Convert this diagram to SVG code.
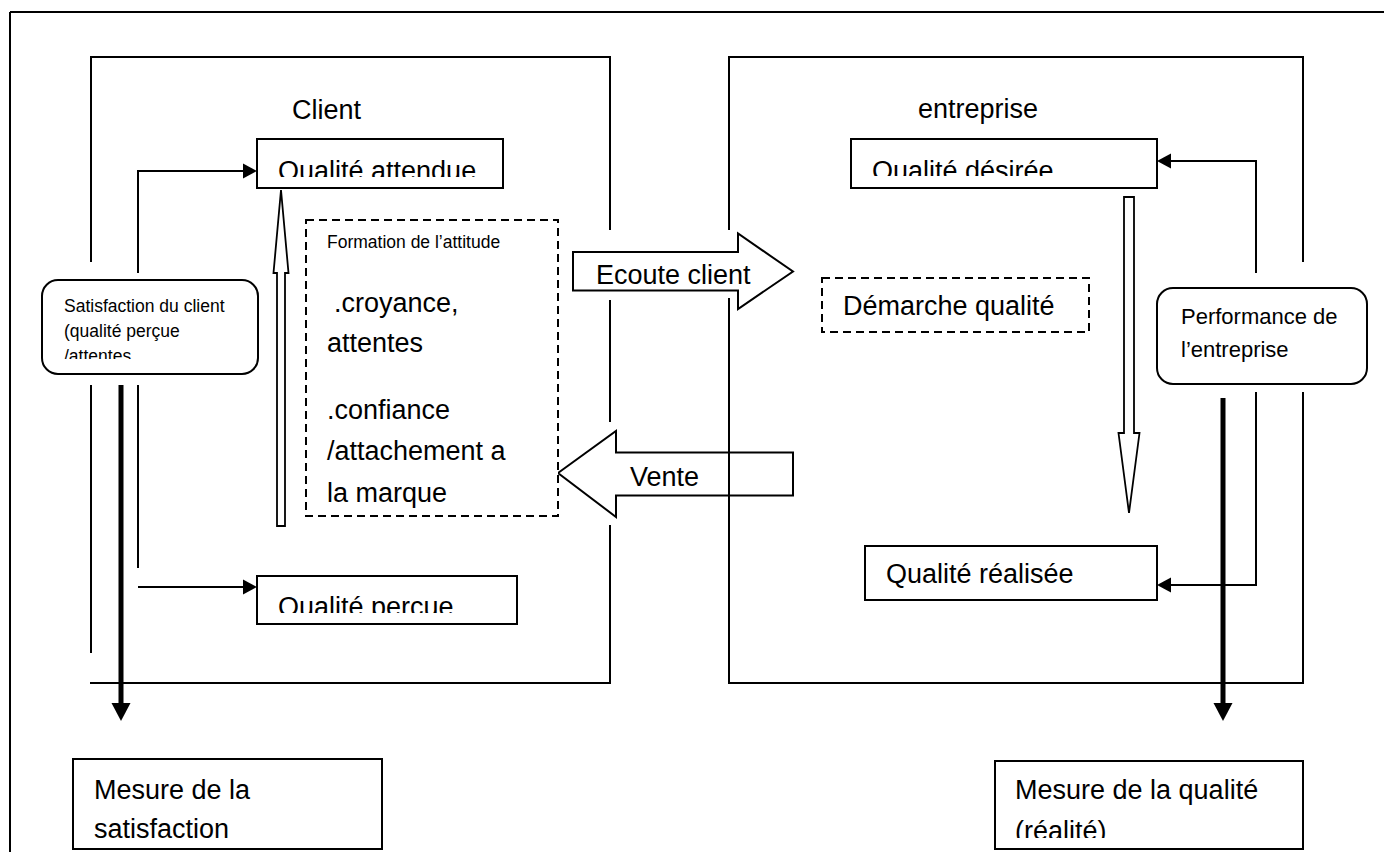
<svg xmlns="http://www.w3.org/2000/svg" width="1384" height="852" viewBox="0 0 1384 852">
  <style>
    text { font-family: "Liberation Sans", Arial, sans-serif; fill: #000; }
    .big { font-size: 27px; }
    .mid { font-size: 22px; }
    .sm { font-size: 17.5px; }
    .box { fill: #fff; stroke: #000; stroke-width: 2; }
    .dash { fill: #fff; stroke: #000; stroke-width: 2; stroke-dasharray: 8 5; }
    .ln { fill: none; stroke: #000; stroke-width: 2; }
    .thin { fill: none; stroke: #000; stroke-width: 2; }
    .thick { fill: none; stroke: #000; stroke-width: 5; }
    .hollow { fill: #fff; stroke: #000; stroke-width: 1.8; stroke-linejoin: miter; }
  </style>
  <defs>
    <marker id="ah" markerUnits="userSpaceOnUse" markerWidth="15" markerHeight="16" refX="0" refY="7.5" orient="auto" overflow="visible">
      <path d="M0,0 L14,7.5 L0,15 z" fill="#000"/>
    </marker>
    <marker id="ahThick" markerUnits="userSpaceOnUse" markerWidth="19" markerHeight="20" refX="0" refY="9.5" orient="auto" overflow="visible">
      <path d="M0,0 L18,9.5 L0,19 z" fill="#000"/>
    </marker>
    <clipPath id="cQA"><rect x="258" y="140" width="244" height="37"/></clipPath>
    <clipPath id="cQD"><rect x="852" y="140" width="304" height="36"/></clipPath>
    <clipPath id="cQP"><rect x="258" y="577" width="258" height="36"/></clipPath>
    <clipPath id="cEC"><rect x="574" y="240" width="220" height="45.5"/></clipPath>
    <clipPath id="cSat"><rect x="43" y="281" width="214" height="78"/></clipPath>
    <clipPath id="cMQ"><rect x="996" y="762" width="306" height="76"/></clipPath>
  </defs>

  <g id="frame">
    <line class="ln" x1="10" y1="12" x2="1384" y2="12"/>
    <line class="ln" x1="10" y1="12" x2="10" y2="852"/>
  </g>

  <g id="client-zone">
    <polyline class="ln" points="91,262 91,57 610,57 610,230"/>
    <line class="ln" x1="91" y1="385" x2="91" y2="653"/>
    <line class="ln" x1="610" y1="300" x2="610" y2="422"/>
    <polyline class="ln" points="610,525 610,683 90,683"/>
    <text class="big" x="292" y="119">Client</text>
  </g>

  <g id="entreprise-zone">
    <polyline class="ln" points="729,230 729,57 1303,57 1303,262"/>
    <polyline class="ln" points="729,298 729,683 1303,683 1303,392"/>
    <text class="big" x="918" y="118">entreprise</text>
  </g>

  <g id="vente">
    <polygon class="box" points="558,473 616,431 616,452.5 793,452.5 793,495.5 616,495.5 616,517"/>
    <text class="big" x="630" y="486">Vente</text>
  </g>
  <line class="ln" x1="729" y1="440" x2="729" y2="510"/>

  <g id="ecoute-client">
    <polygon class="box" points="573,252 738,252 738,233.5 793,271.5 738,309 738,290.5 573,290.5"/>
    <text class="big" x="596" y="284" clip-path="url(#cEC)">Ecoute client</text>
  </g>

  <g id="qualite-attendue">
    <rect class="box" x="257" y="139" width="246" height="49"/>
    <text class="big" x="278" y="180" clip-path="url(#cQA)">Qualité attendue</text>
  </g>

  <g id="formation-attitude">
    <rect class="dash" x="306" y="220" width="252" height="296"/>
    <text class="sm" x="327" y="248">Formation de l’attitude</text>
    <text class="big" x="334" y="312">.croyance,</text>
    <text class="big" x="327" y="352">attentes</text>
    <text class="big" x="327" y="419">.confiance</text>
    <text class="big" x="327" y="460">/attachement a</text>
    <text class="big" x="327" y="502">la marque</text>
  </g>

  <g id="satisfaction-client">
    <rect class="box" x="42" y="280" width="216" height="94" rx="16" ry="16"/>
    <g clip-path="url(#cSat)">
      <text class="sm" x="64" y="312">Satisfaction du client</text>
      <text class="sm" x="64" y="337">(qualité perçue</text>
      <text class="sm" x="64" y="362">/attentes</text>
    </g>
  </g>

  <g id="qualite-percue">
    <rect class="box" x="257" y="576" width="260" height="48"/>
    <text class="big" x="278" y="616" clip-path="url(#cQP)">Qualité perçue</text>
  </g>

  <g id="qualite-desiree">
    <rect class="box" x="851" y="139" width="306" height="49"/>
    <text class="big" x="872" y="180" clip-path="url(#cQD)">Qualité désirée</text>
  </g>

  <g id="demarche-qualite">
    <rect class="dash" x="822" y="278" width="267" height="54"/>
    <text class="big" x="843" y="315">Démarche qualité</text>
  </g>

  <g id="performance-entreprise">
    <rect class="box" x="1157" y="288" width="210" height="96" rx="16" ry="16"/>
    <text class="mid" x="1181" y="324">Performance de</text>
    <text class="mid" x="1181" y="357">l’entreprise</text>
  </g>

  <g id="qualite-realisee">
    <rect class="box" x="865" y="546" width="292" height="54"/>
    <text class="big" x="886" y="583">Qualité réalisée</text>
  </g>

  <g id="mesure-satisfaction">
    <rect class="box" x="73" y="759" width="309" height="90"/>
    <text class="big" x="94" y="799">Mesure de la</text>
    <text class="big" x="94" y="838">satisfaction</text>
  </g>

  <g id="mesure-qualite">
    <rect class="box" x="995" y="761" width="308" height="88"/>
    <g clip-path="url(#cMQ)">
      <text class="big" x="1015" y="799">Mesure de la qualité</text>
      <text class="big" x="1015" y="840">(réalité)</text>
    </g>
  </g>

  <g id="connectors">
    <polyline class="thin" points="138,273 138,171 243,171" marker-end="url(#ah)"/>
    <line class="ln" x1="138" y1="385" x2="138" y2="568"/>
    <line class="thin" x1="138" y1="587" x2="243" y2="587" marker-end="url(#ah)"/>
    <polygon class="hollow" points="281,190 288.5,273 285,273 285,526 277,526 277,273 273.5,273"/>
    <line class="thick" x1="121" y1="385" x2="121" y2="703" marker-end="url(#ahThick)"/>

    <polyline class="thin" points="1256,273 1256,161 1171,161" marker-end="url(#ah)"/>
    <polyline class="thin" points="1256,392 1256,585 1171,585" marker-end="url(#ah)"/>
    <polygon class="hollow" points="1124,197 1134,197 1134,433 1139.5,433 1129,513 1118.5,433 1124,433"/>
    <line class="thick" x1="1223" y1="398" x2="1223" y2="703" marker-end="url(#ahThick)"/>
  </g>
</svg>
